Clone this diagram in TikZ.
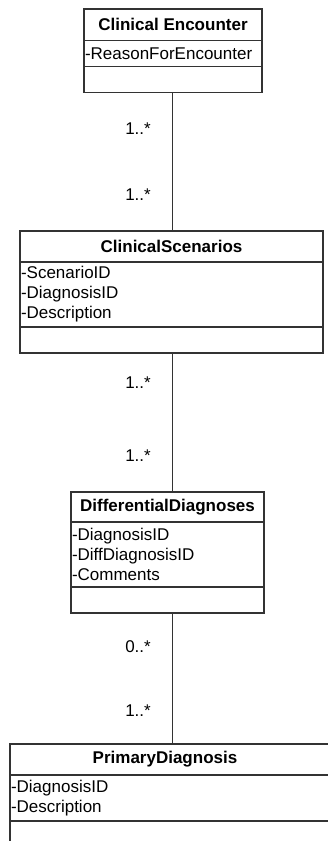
\documentclass[tikz,border=0pt]{standalone}
\usepackage{fontspec}
\setmainfont{Liberation Sans}
\begin{document}
\begin{tikzpicture}[x=1pt,y=-1pt,
  line/.style={draw=black!80,line width=1.3pt},
  part/.style={line,rectangle,inner sep=0pt,outer sep=0pt,anchor=north west,
    font=\fontsize{17}{20}\selectfont},
  hdr/.style={part,font=\fontsize{17}{20}\selectfont\bfseries},
  attrs/.style={part,align=left,text width=#1,inner xsep=1pt},
  mult/.style={anchor=east,inner sep=0pt,font=\fontsize{17}{20}\selectfont}]
\useasboundingbox (0,0) rectangle (327,841);

% Clinical Encounter
\node[hdr,minimum width=178,minimum height=31.7] (encH) at (84,9) {Clinical Encounter};
\node[attrs=176,minimum width=178,minimum height=26] (encA) at (encH.south west) {-ReasonForEncounter};
\node[part,minimum width=178,minimum height=26] (encO) at (encA.south west) {};

% ClinicalScenarios
\node[hdr,minimum width=303,minimum height=31] (scnH) at (20,231) {ClinicalScenarios};
\node[attrs=301,minimum width=303,minimum height=65] (scnA) at (scnH.south west) {-ScenarioID\\-DiagnosisID\\-Description};
\node[part,minimum width=303,minimum height=26] (scnO) at (scnA.south west) {};

% DifferentialDiagnoses
\node[hdr,minimum width=193,minimum height=30] (difH) at (71,492) {DifferentialDiagnoses};
\node[attrs=191,minimum width=193,minimum height=65] (difA) at (difH.south west) {-DiagnosisID\\-DiffDiagnosisID\\-Comments};
\node[part,minimum width=193,minimum height=26] (difO) at (difA.south west) {};

% PrimaryDiagnosis (runs past the right and bottom edges)
\node[part,minimum width=330,minimum height=31] (priH) at (10,744) {};
\node[hdr,draw=none,anchor=center] (priT) at (165,759.5) {PrimaryDiagnosis};
\node[attrs=328,minimum width=330,minimum height=46] (priA) at (priH.south west) {-DiagnosisID\\-Description};
\node[part,minimum width=330,minimum height=40] (priO) at (priA.south west) {};

% associations
\coordinate (ax) at (172,0);
\draw[line,line width=1pt] (encO.south -| ax) -- (scnH.north -| ax);
\draw[line,line width=1pt] (scnO.south -| ax) -- (difH.north -| ax);
\draw[line,line width=1pt] (difO.south -| ax) -- (priH.north -| ax);

% multiplicities
\node[mult] (m1) at (151,129) {1..*};
\node[mult] (m2) at (151,195) {1..*};
\node[mult] (m3) at (151,383) {1..*};
\node[mult] (m4) at (151,456) {1..*};
\node[mult] (m5) at (151,647) {0..*};
\node[mult] (m6) at (151,711) {1..*};
\end{tikzpicture}
\end{document}
